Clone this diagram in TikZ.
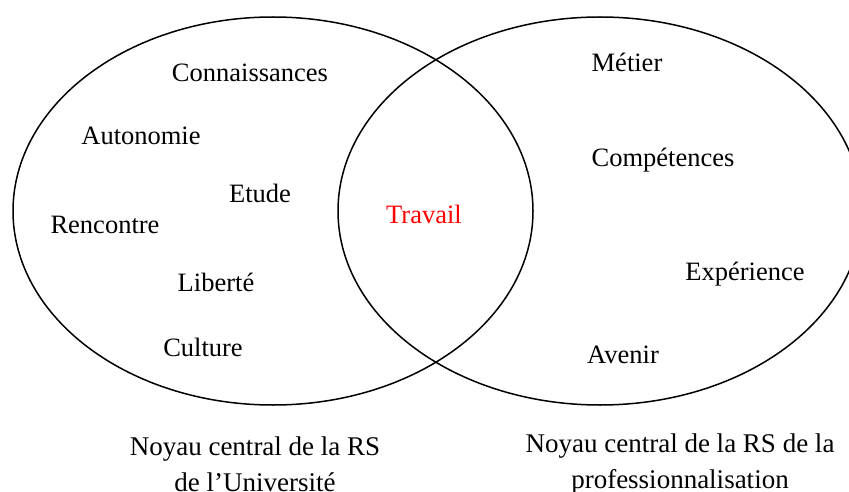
\documentclass[tikz,border=0pt]{standalone}
\usepackage{fontspec}
\setmainfont{Liberation Serif}
\begin{document}
\begin{tikzpicture}[x=1pt,y=-1pt,
  lbl/.style={inner sep=0pt,font=\fontsize{26.5}{36}\selectfont,text height=0.7em,text depth=0.2em},
  caption/.style={inner sep=0pt,font=\fontsize{27}{36}\selectfont,align=center},
  venn/.style={line width=1.5pt}]
\useasboundingbox (0,0) rectangle (849,492);
\clip (0,0) rectangle (849,492);
\fill[white] (0,0) rectangle (849,492);
\draw[venn] (273,211) ellipse [x radius=260, y radius=194];
\draw[venn] (600,211) ellipse [x radius=262, y radius=194];
\node[lbl] (connaissances) at (250,79) {Connaissances};
\node[lbl] (autonomie) at (141,142) {Autonomie};
\node[lbl] (etude) at (260,200) {Etude};
\node[lbl] (rencontre) at (105,231) {Rencontre};
\node[lbl] (liberte) at (216,289) {Libert\'e};
\node[lbl] (culture) at (203,354) {Culture};
\node[lbl,text=red] (travail) at (424,221) {Travail};
\node[lbl] (metier) at (627,69) {M\'etier};
\node[lbl] (competences) at (663,164) {Comp\'etences};
\node[lbl] (experience) at (745,278) {Exp\'erience};
\node[lbl] (avenir) at (623,361) {Avenir};
\node[caption] (capL) at (255,464) {Noyau central de la RS\\de l’Universit\'e};
\node[caption] (capR) at (680,464) {Noyau central de la RS de la\\professionnalisation};
\end{tikzpicture}
\end{document}
